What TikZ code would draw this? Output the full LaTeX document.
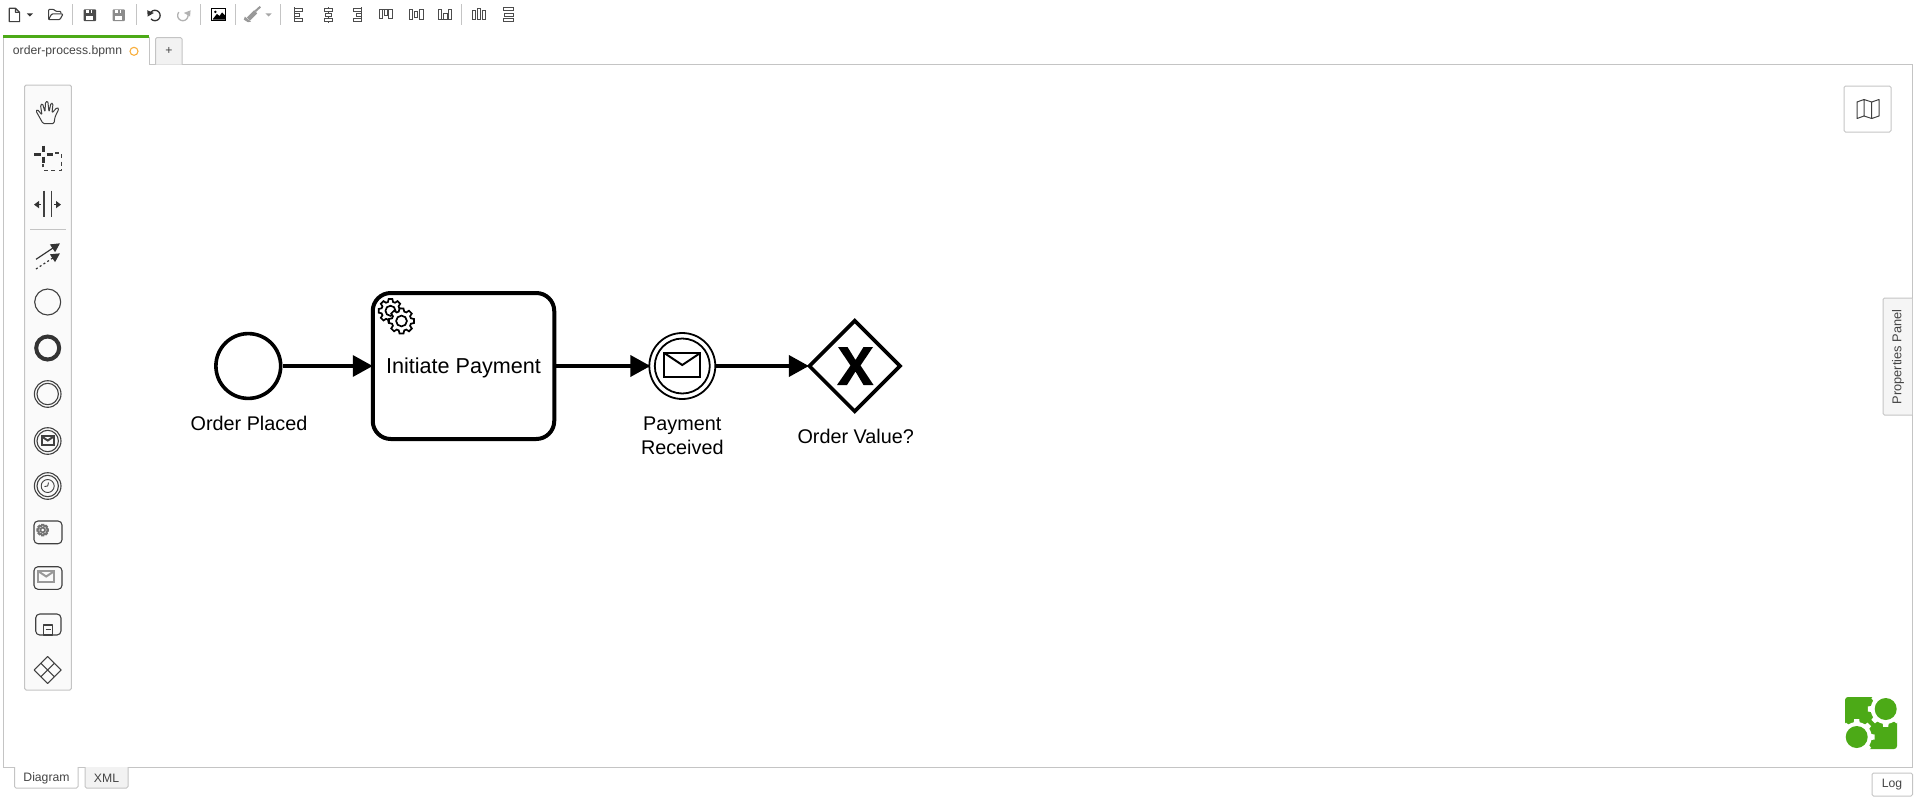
\documentclass[tikz,border=0pt]{standalone}
\usepackage{fontspec}
\setmainfont{Liberation Sans}
\usetikzlibrary{arrows.meta,shapes.geometric}
\definecolor{uiline}{HTML}{C4C4C4}
\definecolor{uitext}{HTML}{444444}
\definecolor{camunda}{HTML}{4CAA17}
\definecolor{unsaved}{HTML}{F8AE3C}
\tikzset{
    bpmnevent/.style={draw,circle,line width=3.6pt,minimum size=64.8pt,inner sep=0pt,fill=white},
    bpmnlabel/.style={font=\fontsize{19.8}{24}\selectfont,inner sep=0pt,align=center},
    flow/.style={line width=3.6pt,shorten >=-2pt,-{Triangle[length=20pt,width=21pt]}},
    uilabel/.style={font=\fontsize{12.2}{14}\selectfont,text=uitext,inner sep=0pt},
    uibox/.style={draw=uiline,line width=1pt,rounded corners=1.5pt},
    tbsep/.style={draw=uiline,line width=1pt},
    tool/.style={draw=black!75,line width=1.1pt,line join=round},
    alignbar/.style={draw=black!70,line width=1pt},
    gearicon/.pic={
        \draw[line width=1.7pt,fill=white,pic actions] (-16:10)
            \foreach \a in {0,45,...,315} { -- (\a-16:10) -- (\a-9:13) -- (\a+9:13) -- (\a+16:10) } -- cycle;
        \draw[line width=1.7pt,pic actions] (0,0) circle[radius=5.5];
    },
    mailicon/.pic={
        \draw[line width=2pt,pic actions] (-18,-12) rectangle (18,12);
        \draw[line width=2pt,pic actions] (-18,-12) -- (0,0) -- (18,-12);
    }
}
\begin{document}
\begin{tikzpicture}[x=1pt,y=-1pt]
    \useasboundingbox (0,0) rectangle (1917,801);
    %% frame and tabs
    \draw[draw=uiline,line width=1pt] (3.5,37) -- (3.5,767) -- (1912.5,767) -- (1912.5,64.5) -- (149,64.5) -- (149,37);
    \draw[fill=camunda,draw=none] (3,35) rectangle (149,38);
    \node[uilabel] (tabfile) at (67.5,51) {order-process.bpmn};
    \draw[draw=unsaved,line width=1.1pt] (134,51.3) circle[radius=4];
    \draw[uibox,fill=black!5] (155.5,64.5) |- (182,37.5) -- (182,64.5);
    \node[uilabel] (tabplus) at (169,51) {+};
    \draw[uibox,fill=white] (14.5,767) |- (78,788) -- (78,767);
    \node[uilabel] (tabdiagram) at (46.5,778) {Diagram};
    \draw[uibox,fill=black!5] (85,767) |- (128,788) -- (128,767);
    \node[uilabel] (tabxml) at (106.5,778) {XML};
    \draw[uibox] (1872,773) rectangle (1912.5,796);
    \node[uilabel] (logbutton) at (1892,785) {Log};
    \draw[uibox,fill=black!4] (1912,298) -- (1883,298) -- (1883,415) -- (1912,415);
    \node[uilabel,rotate=90,font=\fontsize{12.8}{14}\selectfont] (propspanel) at (1898,357) {Properties Panel};
    %% toolbar
    \begin{scope}[x=1.033pt,y=-1.033pt]
    \foreach \x in {70,132,194,228,272,447} {
        \draw[tbsep] (\x,4) -- (\x,24);
    }
    \draw[tool] (9,8) -- (15,8) -- (19,12) -- (19,21) -- (9,21) -- cycle (15,8) -- (15,12) -- (19,12);
    \fill[black!80] (26,13) -- (32,13) -- (29,16) -- cycle;
    \draw[tool,rounded corners=1pt] (47,19) -- (47,9) -- (52,9) -- (54,11) -- (59,11) -- (59,13);
    \draw[tool,rounded corners=1pt] (47,19) -- (50,13.5) -- (61,13.5) -- (58,19) -- cycle;
    \foreach \x/\c in {87/black!70,115/black!45} {
        \fill[\c,rounded corners=1pt] (\x-6,9) rectangle (\x+6,20.5);
        \fill[white] (\x-3.5,9.5) rectangle (\x+2.5,13);
        \fill[white] (\x-3.5,15.5) rectangle (\x+3.5,19);
        \fill[\c] (\x-0.5,10) rectangle (\x+1.5,12.5);
    }
    \draw[black!80,line width=1.3pt] plot[domain=-150:140,samples=24] ({150+5*cos(\x)},{15+5*sin(\x)});
    \fill[black!80] (142.5,10) -- (149,12.5) -- (143,16) -- cycle;
    \draw[black!30,line width=1.3pt] plot[domain=-30:220,samples=24] ({177+5*cos(\x)},{15+5*sin(\x)});
    \fill[black!30] (184.5,10) -- (178,12.5) -- (184,16) -- cycle;
    \draw[black,line width=1.2pt] (205,8.5) rectangle (218.5,19.5);
    \fill[black] (206,18.5) -- (210,13.5) -- (212.5,15.5) -- (215,12) -- (218,15) -- (218,19) -- (206,19) -- cycle;
    \fill[black] (208.5,11.5) circle[radius=1.3];
    \fill[black!40] (239,17) -- (246,10) -- (249,13) -- (242,20) -- cycle;
    \draw[black!40,line width=2pt] (247,11) -- (252,6.5);
    \fill[black!40] (237,16) -- (243,21) -- (240,21.5) -- (236,19) -- cycle;
    \fill[black!35] (257,13) -- (263,13) -- (260,16) -- cycle;
    %% align buttons
    \draw[alignbar] (285,7) -- (285,21.5) (285,8) rectangle (293,11) (285,13) rectangle (290,16) (285,18) rectangle (293,21);
    \draw[alignbar] (314,8) rectangle (322,11) (315.5,13) rectangle (320.5,16) (314,18) rectangle (322,21) (318,7) -- (318,8) (318,11) -- (318,13) (318,16) -- (318,18) (318,21) -- (318,22);
    \draw[alignbar] (350,7) -- (350,21.5) (342,8) rectangle (350,11) (345,13) rectangle (350,16) (342,18) rectangle (350,21);
    \draw[alignbar] (367.5,9.5) rectangle (370.5,18) (372,9.5) rectangle (375,15) (376.5,9.5) rectangle (379.5,18) (367,9) -- (380,9);
    \draw[alignbar] (396,9.5) rectangle (399,18.5) (401,11.5) rectangle (404.5,16.5) (406.5,9.5) rectangle (409.5,18.5);
    \draw[alignbar] (424.5,9.5) rectangle (427.5,18.5) (429.5,13) rectangle (433,18.5) (434.5,9.5) rectangle (437.5,18.5) (424,19) -- (438,19);
    \draw[alignbar] (457.5,10.5) rectangle (460.5,19) (462,8) rectangle (465.5,19) (467,10.5) rectangle (470,19);
    \draw[alignbar] (487,7.5) rectangle (497,10.5) (488.5,13) rectangle (497,15.5) (487,18) rectangle (497,21);
    \end{scope}
    %% palette
    \draw[uibox,fill=black!2] (24.7,85) rectangle (71.3,690);
    \draw[uiline] (30,229) -- (66,229);
    \draw[tool,rounded corners=1.2pt,line width=1pt] (43,123.5) -- (36,111) -- (37.5,109.5) -- (42,115) -- (40.5,105) -- (42.5,103.5) -- (45,112) -- (45.5,102) -- (47.8,101) -- (49,112) -- (51,103) -- (53,103.5) -- (52,113) -- (57,107.5) -- (59,108.5) -- (55,117) -- (54,123.5) -- cycle;
    \draw[black!80,line width=3pt] (34.3,154) -- (41,154) (46.5,154) -- (52.7,154) (43.7,145.7) -- (43.7,151.5) (43.7,156.5) -- (43.7,162.7);
    \draw[tool,dash pattern=on 4pt off 3.6pt] (55,153) -- (61.5,153) -- (61.5,170.5) -- (43,170.5) -- (43,164);
    \draw[tool] (44,190.7) -- (44,217.3) (51.7,190.7) -- (51.7,217.3);
    \draw[black!80,line width=1.4pt,-{Triangle[length=5pt,width=7pt]}] (41,204.6) -- (34,204.6);
    \draw[black!80,line width=1.4pt,-{Triangle[length=5pt,width=7pt]}] (54,204.6) -- (61,204.6);
    \draw[black!80,line width=1.2pt,-{Triangle[length=9pt,width=9pt]}] (36,259.3) -- (60,243.3);
    \draw[black!80,line width=1.2pt,dash pattern=on 2pt off 2.5pt,-{Triangle[length=9pt,width=9pt]}] (36,269) -- (60,253.3);
    \draw[tool] (47.7,302) circle[radius=13];
    \draw[black!80,line width=4pt] (47.7,348) circle[radius=11.5];
    \foreach \y in {394,441,486} {
        \draw[tool] (47.7,\y) circle[radius=13.3];
        \draw[tool] (47.7,\y) circle[radius=10.7];
    }
    \pic[scale=0.34,draw=black!75] at (47.7,440.5) {mailicon};
    \draw[tool,line width=0.9pt] (47.7,486) circle[radius=6.5] (47.7,486) -- (48.5,482.5) (47.7,486) -- (44.5,486.5);
    \draw[tool,rounded corners=4pt] (34,521) rectangle (62,543.7);
    \pic[scale=0.42,draw=black!55] at (42.7,530) {gearicon};
    \draw[tool,rounded corners=4pt] (34,566.7) rectangle (62,589.3);
    \pic[scale=0.44,draw=black!40] at (46.2,576.5) {mailicon};
    \draw[tool,rounded corners=4pt] (35.7,614) rectangle (61,635);
    \draw[tool] (43.3,625) rectangle (52.7,635) (45.5,629.5) -- (50.5,629.5);
    \draw[tool] (47.7,656.5) -- (61.2,670) -- (47.7,683.5) -- (34.2,670) -- cycle (41,663.3) -- (54.4,676.7) (54.4,663.3) -- (41,676.7);
    %% minimap button
    \draw[uibox] (1844,86) rectangle (1891,132);
    \draw[tool,line width=1pt] (1857,102) -- (1864,99.5) -- (1871.7,102) -- (1879,99.5) -- (1879,116) -- (1871.7,118.5) -- (1864,116) -- (1857,118.5) -- cycle (1864,99.5) -- (1864,116) (1871.7,102) -- (1871.7,118.5);
    %% logo
    \fill[camunda,rounded corners=3pt] (1845,697) rectangle (1897,749);
    \foreach \cx/\cy in {1885.7/709,1856.7/737} {
        \fill[white] (\cx,\cy) \foreach \a in {0,45,...,315} { -- ([shift={(\cx,\cy)}]\a-12:14.5) -- ([shift={(\cx,\cy)}]\a-8:18) -- ([shift={(\cx,\cy)}]\a+8:18) -- ([shift={(\cx,\cy)}]\a+12:14.5) } -- cycle;
        \fill[white] (\cx,\cy) circle[radius=15];
    }
    \fill[white] (1885,697) -- (1898,696) -- (1898,710) -- cycle;
    \fill[white] (1844,736) -- (1858,750) -- (1844,750) -- cycle;
    \fill[camunda] (1885.7,709) circle[radius=11];
    \fill[camunda] (1856.7,737) circle[radius=11];
    %% process elements
    \node[bpmnevent] (orderplaced) at (248.3,366) {};
    \node[bpmnlabel] (orderplacedlabel) at (249,423) {Order Placed};
    \node[draw,rectangle,rounded corners=18pt,line width=4pt,minimum width=181.5pt,minimum height=146pt,inner sep=0pt,text height=15pt,text depth=0pt,font=\fontsize{21.6}{24}\selectfont] (initiatepay) at (463.5,366) {Initiate Payment};
    \pic[draw=black,scale=0.92] at (390.5,310.8) {gearicon};
    \pic[draw=black,scale=0.98] at (401.5,321) {gearicon};
    \node[bpmnevent,line width=1.8pt,minimum size=66pt] (paymentrecv) at (682.3,366) {};
    \draw[line width=1.8pt] (paymentrecv.center) circle[radius=27.5];
    \pic[draw=black] at (682.3,365) {mailicon};
    \node[bpmnlabel] (paymentrecvlabel) at (682.3,436) {Payment\\Received};
    \node[draw,diamond,line width=3.6pt,minimum width=92pt,minimum height=92pt,inner sep=0pt] (ordervalue) at (854.7,366) {};
    \fill (838,347) -- (847.5,347) -- (855.5,360) -- (863.5,347) -- (873,347) -- (860.5,365.5) -- (873.5,385) -- (863.5,385) -- (855.5,371.5) -- (847,385) -- (837,385) -- (850.5,365.5) -- cycle;
    \node[bpmnlabel] (ordervaluelabel) at (855.7,436) {Order Value?};
    %% sequence flows
    \draw[flow] (orderplaced) -- (initiatepay);
    \draw[flow] (initiatepay) -- (paymentrecv);
    \draw[flow] (paymentrecv) -- (ordervalue);
\end{tikzpicture}
\end{document}
